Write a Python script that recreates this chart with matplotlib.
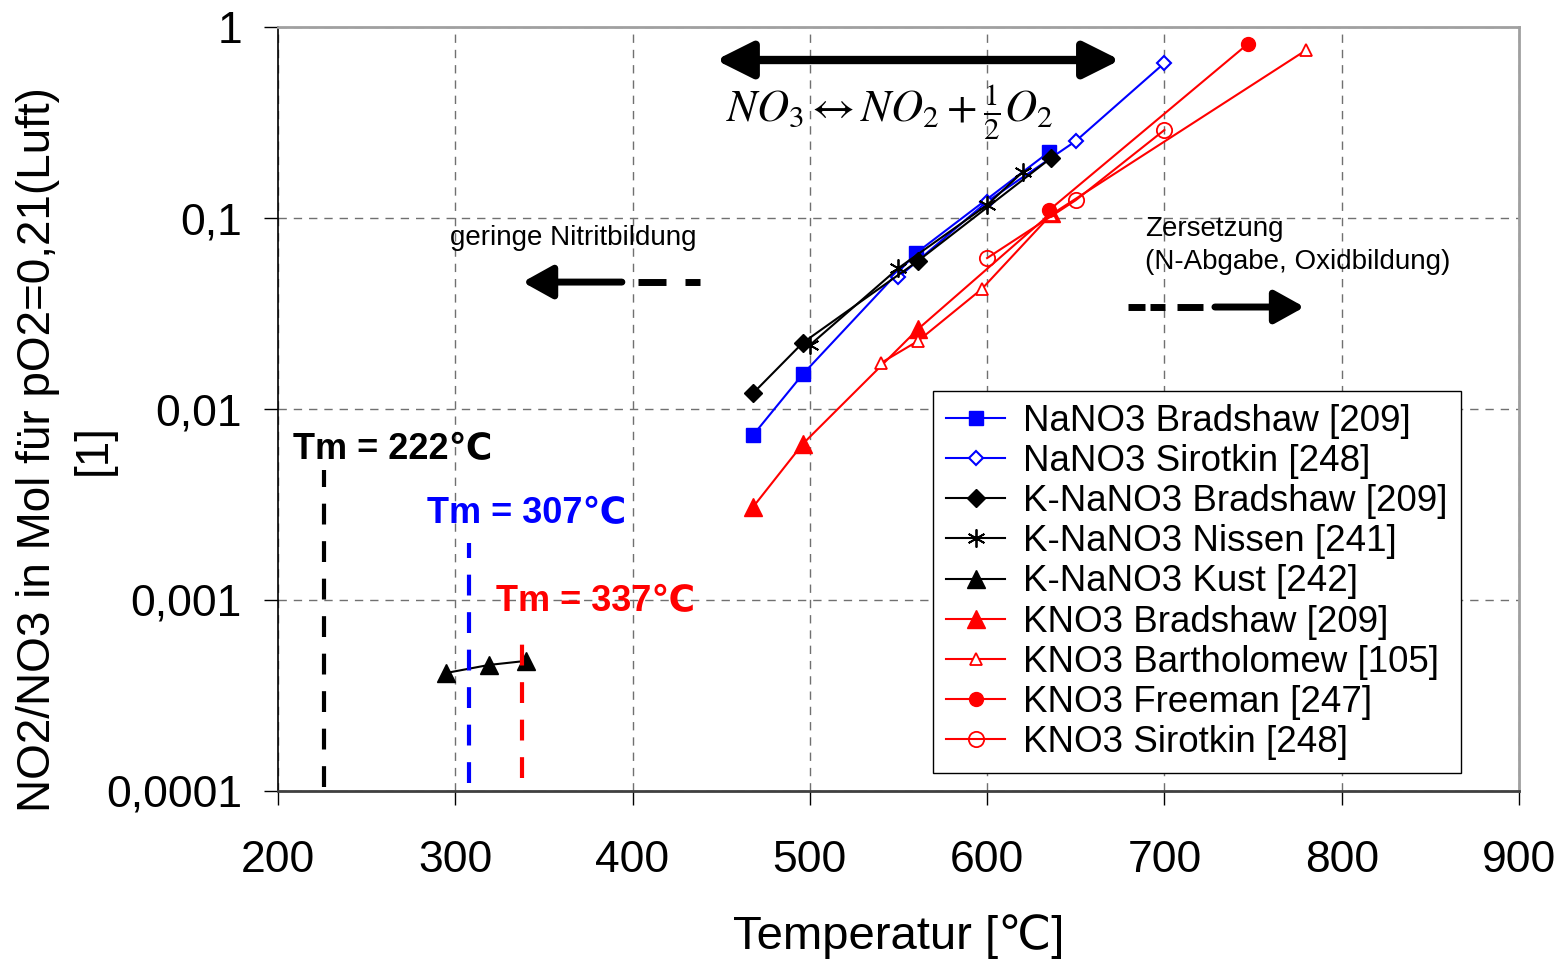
import matplotlib
matplotlib.use("Agg")
import matplotlib.pyplot as plt
import numpy as np

plt.rcParams['font.family'] = ['Liberation Sans', 'DejaVu Sans']
plt.rcParams['mathtext.fontset'] = 'stix'

na_brad_t = [468, 496, 560, 635]
na_brad_v = [0.0073, 0.0152, 0.0656, 0.222]
na_sir_t = [550, 600, 650, 700]
na_sir_v = [0.049, 0.122, 0.253, 0.648]
kna_brad_t = [468, 496, 561, 636]
kna_brad_v = [0.0121, 0.0222, 0.0596, 0.206]
kna_nis_t = [500, 550, 600, 620]
kna_nis_v = [0.0216, 0.0547, 0.117, 0.174]
kna_kust_t = [295, 319, 340]
kna_kust_v = [0.000415, 0.000457, 0.00048]
k_brad_t = [468, 496, 561, 636]
k_brad_v = [0.00307, 0.00656, 0.0262, 0.106]
k_bart_t = [540, 561, 597, 636, 780]
k_bart_v = [0.0174, 0.0227, 0.0425, 0.104, 0.758]
k_free_t = [635, 747]
k_free_v = [0.110, 0.815]
k_sir_t = [600, 650, 700]
k_sir_v = [0.0617, 0.124, 0.289]

# Schmelztemperaturen
tm_x = [226, 307.5, 337.5]
tm_top = [0.0048, 0.00199, 0.00068]
tm_bot = [0.000105, 0.00011, 0.000117]
tm_col = ['black', 'blue', 'red']
tm_txt = ['Tm = 222℃', 'Tm = 307℃', 'Tm = 337℃']
tm_txt_pos = [(208.5, 0.0061), (284, 0.00285), (323, 0.00098)]

yticks = [0.0001, 0.001, 0.01, 0.1, 1]
ytick_labels = ['0,0001', '0,001', '0,01', '0,1', '1']
xticks = [200, 300, 400, 500, 600, 700, 800, 900]

fig = plt.figure(figsize=(15.65, 9.59), dpi=100)
ax = fig.add_axes([0.1776, 0.1752, 0.7930, 0.7966])
ax.set_yscale('log')
ax.set_xlim(200, 900)
ax.set_ylim(0.0001, 1)

lw = 1.5
ax.plot(na_brad_t, na_brad_v, '-s', color='blue', lw=lw, ms=10, label='NaNO3 Bradshaw [209]')
ax.plot(na_sir_t, na_sir_v, '-D', color='blue', lw=lw, ms=7, mfc='white', mew=1.5, label='NaNO3 Sirotkin [248]')
ax.plot(kna_brad_t, kna_brad_v, '-D', color='black', lw=lw, ms=9, label='K-NaNO3 Bradshaw [209]')
ax.plot(kna_nis_t, kna_nis_v, '-', marker=(6, 2, 0), color='black', lw=lw, ms=13, mew=1.3, label='K-NaNO3 Nissen [241]')
ax.plot(kna_kust_t, kna_kust_v, '-^', color='black', lw=lw, ms=13, label='K-NaNO3 Kust [242]')
ax.plot(k_brad_t, k_brad_v, '-^', color='red', lw=lw, ms=13, label='KNO3 Bradshaw [209]')
ax.plot(k_bart_t, k_bart_v, '-^', color='red', lw=lw, ms=8, mfc='white', mew=1.3, label='KNO3 Bartholomew [105]')
ax.plot(k_free_t, k_free_v, '-o', color='red', lw=lw, ms=10, label='KNO3 Freeman [247]')
ax.plot(k_sir_t, k_sir_v, '-o', color='red', lw=lw, ms=11, mfc='none', mew=1.3, label='KNO3 Sirotkin [248]')

for x, t, b, c in zip(tm_x, tm_top, tm_bot, tm_col):
    ax.plot([x, x], [b, t], color=c, lw=3, dashes=(5, 4))
for (x, y), s, c in zip(tm_txt_pos, tm_txt, tm_col):
    ax.text(x, y, s, color=c, fontsize=26, fontweight='bold', va='center', ha='left')

# Pfeile und Beschriftungen
ax.annotate('', xy=(447, 0.672), xytext=(675, 0.672),
            arrowprops=dict(arrowstyle='<|-|>,head_length=2.2,head_width=1.1',
                            lw=6, color='black', shrinkA=0, shrinkB=0, mutation_scale=10))
ax.text(545, 0.36, r'$NO_3 \leftrightarrow NO_2 + \frac{1}{2}O_2$', fontsize=32,
        ha='center', va='center')

ax.text(297, 0.0786, 'geringe Nitritbildung', fontsize=20, ha='left', va='center')
ax.annotate('', xy=(338, 0.0462), xytext=(394, 0.0462),
            arrowprops=dict(arrowstyle='-|>,head_length=1.8,head_width=1.0',
                            lw=5, color='black', shrinkA=0, shrinkB=0, mutation_scale=10))
for a, b in [(403, 419), (429.5, 438)]:
    ax.plot([a, b], [0.0462, 0.0462], color='black', lw=5, solid_capstyle='butt')

ax.text(689, 0.072, 'Zersetzung\n(N-Abgabe, Oxidbildung)', fontsize=20, ha='left',
        va='center', linespacing=1.35)
for a, b in [(679.4, 689), (691.8, 700.3), (707, 721.7)]:
    ax.plot([a, b], [0.0342, 0.0342], color='black', lw=5, solid_capstyle='butt')
ax.annotate('', xy=(779, 0.0342), xytext=(728.5, 0.0342),
            arrowprops=dict(arrowstyle='-|>,head_length=1.8,head_width=1.0',
                            lw=5, color='black', shrinkA=0, shrinkB=0, mutation_scale=10))

ax.set_xticks(xticks)
ax.set_yticks(yticks)
ax.set_yticklabels(ytick_labels)
ax.minorticks_off()
ax.tick_params(axis='both', labelsize=32, length=10, width=1, color='black')
ax.tick_params(axis='x', pad=25)
ax.tick_params(axis='y', pad=16)
ax.grid(True, which='major', color='#707070', ls=(0, (6, 5)), lw=1)

ax.spines['left'].set_color('black')
ax.spines['left'].set_linewidth(1.2)
ax.spines['bottom'].set_color('#404040')
ax.spines['bottom'].set_linewidth(2)
ax.spines['top'].set_color('#a0a0a0')
ax.spines['top'].set_linewidth(2)
ax.spines['right'].set_color('#a0a0a0')
ax.spines['right'].set_linewidth(2)

ax.set_xlabel('Temperatur [℃]', fontsize=34, labelpad=24)
fig.text(66 / 1565, 1 - 450 / 959, 'NO2/NO3 in Mol für pO2=0,21(Luft)\n[1]',
         fontsize=33, rotation=90, ha='center', va='center', linespacing=1.35)

leg = ax.legend(loc='upper left', bbox_to_anchor=(0.528, 0.5236), borderaxespad=0,
                fontsize=26.5, frameon=True, fancybox=False, framealpha=1,
                edgecolor='black', borderpad=0.35, labelspacing=0.14,
                handlelength=1.6, handletextpad=0.5)
leg.get_frame().set_linewidth(1)

fig.savefig('out.png', dpi=100)
